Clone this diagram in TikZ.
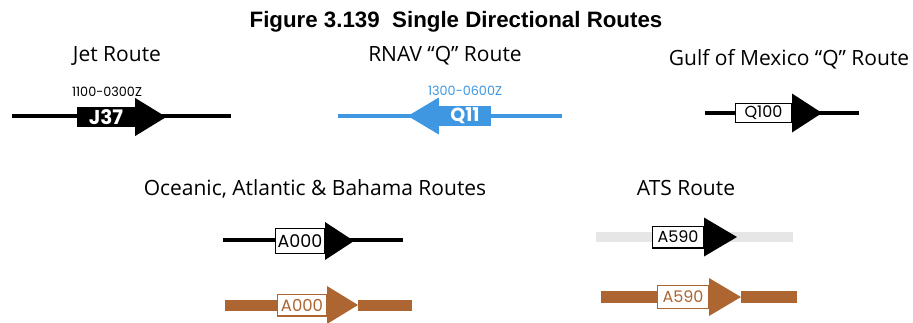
\documentclass[tikz,border=0pt]{standalone}
\usepackage{fontspec}
\setmainfont{Open Sans}
\newfontfamily\titlefont{Liberation Sans}
\newfontfamily\routefont{Poppins}
\usetikzlibrary{calc}

\definecolor{qblue}{HTML}{3E97E0}
\definecolor{atsbrown}{HTML}{AD6531}
\definecolor{atsgray}{HTML}{E6E6E6}

\begin{document}
\begin{tikzpicture}[
    x=1pt, y=-1pt,
    heading/.style={font=\titlefont\bfseries\fontsize{22.3}{24}\selectfont, anchor=base},
    caption/.style={font=\fontsize{21}{23}\selectfont, anchor=base},
    times/.style={font=\routefont\fontsize{12.8}{13}\selectfont, anchor=base},
    rline/.style={line width=3.6pt},
    rbar/.style={line width=11pt},
    rbox/.style={rectangle, inner sep=0pt, font=\routefont\fontsize{16}{16}\selectfont},
    obox/.style={rbox, fill=white, draw, line width=1.4pt}
]
    \useasboundingbox (0,0) rectangle (913,322);

    % Title and captions
    \node[heading] (title) at (456,27) {Figure 3.139~~Single Directional Routes};
    \node[caption] (jetcap) at (117,61) {Jet Route};
    \node[caption] (rnavcap) at (445,61) {RNAV “Q” Route};
    \node[caption] (gulfcap) at (789,65) {Gulf of Mexico “Q” Route};
    \node[caption] (oabcap) at (315,195) {Oceanic, Atlantic \& Bahama Routes};
    \node[caption] (atscap) at (686,195) {ATS Route};

    % Jet route
    \coordinate (jetL) at (12,116);
    \coordinate (jetR) at (231,116);
    \draw[rline] (jetL) -- (jetR);
    \node[rbox, fill=black, text=white, minimum width=58pt, minimum height=20pt,
          font=\routefont\bfseries\fontsize{20}{20}\selectfont] (jetbox) at (106,117) {J37};
    \fill ($(jetbox.east)+(0,-19)$) -- ($(jetbox.east)+(31,0)$) -- ($(jetbox.east)+(0,19)$) -- cycle;
    \node[times] (jettime) at (107,96) {1100-0300Z};

    % RNAV Q route
    \coordinate (rnavL) at (338,116);
    \coordinate (rnavR) at (562,116);
    \draw[rline, qblue] (rnavL) -- (rnavR);
    \node[rbox, fill=qblue, text=white, minimum width=52pt, minimum height=20pt,
          font=\routefont\bfseries\fontsize{19}{19}\selectfont] (rnavbox) at (465,116) {Q11};
    \fill[qblue] ($(rnavbox.west)+(0,-18.5)$) -- ($(rnavbox.west)+(-31,0)$) -- ($(rnavbox.west)+(0,18.5)$) -- cycle;
    \node[times, qblue] (rnavtime) at (465,95) {1300-0600Z};

    % Gulf of Mexico Q route
    \coordinate (gulfL) at (705,113);
    \coordinate (gulfR) at (859,113);
    \draw[rline] (gulfL) -- (gulfR);
    \node[obox, minimum width=55.6pt, minimum height=18.6pt] (gulfbox) at (763.5,113) {Q100};
    \fill ($(gulfbox.east)+(0,-19.5)$) -- ($(gulfbox.east)+(30,0)$) -- ($(gulfbox.east)+(0,19.5)$) -- cycle;

    % Oceanic, Atlantic & Bahama routes
    \coordinate (oaL) at (223,240);
    \coordinate (oaR) at (403,240);
    \draw[rline] (oaL) -- (oaR);
    \node[obox, minimum width=48.6pt, minimum height=24.6pt,
          font=\routefont\fontsize{17.5}{17.5}\selectfont] (oabox) at (300,241) {A000};
    \fill ($(oabox.east)+(0,-19)$) -- ($(oabox.east)+(29,0)$) -- ($(oabox.east)+(0,19)$) -- cycle;

    \coordinate (oabL) at (225,305);
    \coordinate (oabR) at (412,305);
    \node[obox, draw=atsbrown, text=atsbrown, minimum width=48.6pt, minimum height=21.6pt,
          font=\routefont\fontsize{16.5}{16.5}\selectfont] (oabbox) at (302,305) {A000};
    \coordinate (oabtip) at ($(oabbox.east)+(31,0)$);
    \draw[rbar, atsbrown] (oabL) -- (oabbox.west);
    \draw[rbar, atsbrown] (oabtip) -- (oabR);
    \fill[atsbrown] ($(oabbox.east)+(0,-19)$) -- (oabtip) -- ($(oabbox.east)+(0,19)$) -- cycle;

    % ATS routes
    \coordinate (atsL) at (596,237);
    \coordinate (atsR) at (793,237);
    \draw[rbar, atsgray, line width=10pt] (atsL) -- (atsR);
    \node[obox, minimum width=50.6pt, minimum height=21.6pt] (atsbox) at (678,237) {A590};
    \fill ($(atsbox.east)+(0,-19.5)$) -- ($(atsbox.east)+(33,0)$) -- ($(atsbox.east)+(0,19.5)$) -- cycle;

    \coordinate (atsbL) at (601,297);
    \coordinate (atsbR) at (797,297);
    \node[obox, draw=atsbrown, text=atsbrown, minimum width=50.6pt, minimum height=22.6pt] (atsbbox) at (683,297) {A590};
    \coordinate (atsbtip) at ($(atsbbox.east)+(32,0)$);
    \draw[rbar, atsbrown, line width=12pt] (atsbL) -- (atsbbox.west);
    \draw[rbar, atsbrown, line width=12pt] (atsbtip) -- (atsbR);
    \fill[atsbrown] ($(atsbbox.east)+(0,-19)$) -- (atsbtip) -- ($(atsbbox.east)+(0,19)$) -- cycle;

\end{tikzpicture}
\end{document}
